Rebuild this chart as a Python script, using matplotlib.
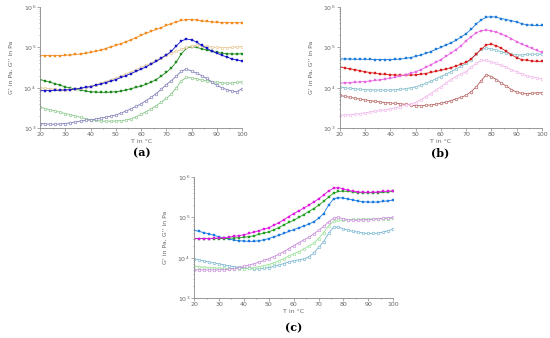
import math
import matplotlib
matplotlib.use("Agg")
import matplotlib.pyplot as plt
from matplotlib.ticker import LogLocator, MultipleLocator, FuncFormatter, NullFormatter

T = list(range(20, 101, 2))

# panel (a)
a_orange = [6.3e4, 6.3e4, 6.3e4, 6.3e4, 6.3e4, 6.4e4, 6.5e4, 6.7e4, 6.9e4, 7.2e4, 7.5e4, 8.0e4, 8.6e4, 9.4e4,
            1.03e5, 1.12e5, 1.24e5, 1.38e5, 1.55e5, 1.75e5, 2.0e5, 2.25e5, 2.5e5, 2.8e5, 3.1e5, 3.5e5, 3.9e5,
            4.3e5, 4.7e5, 4.9e5, 4.9e5, 4.8e5, 4.6e5, 4.4e5, 4.3e5, 4.2e5, 4.15e5, 4.1e5, 4.1e5, 4.1e5, 4.1e5]
a_blue = [8.5e3, 8.5e3, 8.5e3, 8.6e3, 8.7e3, 8.8e3, 9.0e3, 9.3e3, 9.7e3, 1.02e4, 1.07e4, 1.15e4, 1.24e4, 1.35e4,
          1.47e4, 1.6e4, 1.8e4, 2.0e4, 2.25e4, 2.55e4, 2.9e4, 3.3e4, 3.9e4, 4.5e4, 5.4e4, 6.5e4, 8.0e4, 1.1e5,
          1.45e5, 1.62e5, 1.55e5, 1.35e5, 1.12e5, 9.5e4, 8.2e4, 7.2e4, 6.4e4, 5.8e4, 5.2e4, 4.9e4, 4.6e4]
a_beige = [1.0e4, 9.7e3, 9.4e3, 9.2e3, 9.0e3, 9.0e3, 9.1e3, 9.3e3, 9.7e3, 1.03e4, 1.1e4, 1.19e4, 1.3e4, 1.43e4,
           1.58e4, 1.75e4, 1.95e4, 2.2e4, 2.45e4, 2.8e4, 3.2e4, 3.6e4, 4.1e4, 4.8e4, 5.6e4, 6.5e4, 7.3e4, 8.0e4,
           9.0e4, 1.0e5, 1.08e5, 1.12e5, 1.1e5, 1.06e5, 1.02e5, 1.0e5, 9.9e4, 9.9e4, 1.0e5, 1.03e5, 1.05e5]
a_green = [1.6e4, 1.48e4, 1.37e4, 1.26e4, 1.15e4, 1.05e4, 9.8e3, 9.2e3, 8.7e3, 8.3e3, 8.0e3, 7.8e3, 7.7e3, 7.7e3,
           7.8e3, 8.0e3, 8.3e3, 8.8e3, 9.5e3, 1.02e4, 1.1e4, 1.22e4, 1.38e4, 1.6e4, 1.95e4, 2.4e4, 3.1e4, 4.4e4,
           7.0e4, 9.5e4, 1.05e5, 1.0e5, 9.3e4, 8.6e4, 8.0e4, 7.5e4, 7.2e4, 7.0e4, 6.9e4, 6.9e4, 7.0e4]
a_purple = [1.3e3, 1.27e3, 1.25e3, 1.25e3, 1.27e3, 1.3e3, 1.35e3, 1.42e3, 1.5e3, 1.55e3, 1.6e3, 1.68e3, 1.76e3,
            1.86e3, 1.98e3, 2.1e3, 2.35e3, 2.65e3, 3.0e3, 3.45e3, 4.0e3, 4.8e3, 5.8e3, 7.2e3, 9.2e3, 1.2e4, 1.5e4,
            1.95e4, 2.6e4, 2.9e4, 2.6e4, 2.3e4, 2.0e4, 1.7e4, 1.4e4, 1.15e4, 1.0e4, 9.0e3, 8.3e3, 8.0e3, 9.5e3]
a_lgreen = [3.3e3, 3.05e3, 2.85e3, 2.65e3, 2.45e3, 2.3e3, 2.15e3, 2.0e3, 1.85e3, 1.72e3, 1.62e3, 1.55e3, 1.5e3,
            1.48e3, 1.48e3, 1.5e3, 1.53e3, 1.58e3, 1.7e3, 1.9e3, 2.2e3, 2.55e3, 3.0e3, 3.6e3, 4.4e3, 5.5e3, 7.0e3,
            1.0e4, 1.5e4, 1.8e4, 1.75e4, 1.65e4, 1.55e4, 1.48e4, 1.42e4, 1.37e4, 1.33e4, 1.3e4, 1.32e4, 1.36e4, 1.4e4]

# panel (b)
b_blue = [5.2e4, 5.2e4, 5.15e4, 5.1e4, 5.1e4, 5.1e4, 5.05e4, 5.0e4, 5.0e4, 5.0e4, 5.0e4, 5.05e4, 5.15e4, 5.35e4,
          5.6e4, 6.0e4, 6.5e4, 7.1e4, 7.9e4, 8.9e4, 1.0e5, 1.15e5, 1.3e5, 1.5e5, 1.8e5, 2.2e5, 2.8e5, 3.8e5,
          4.8e5, 5.6e5, 5.8e5, 5.6e5, 5.2e5, 4.9e5, 4.6e5, 4.3e5, 3.9e5, 3.65e5, 3.55e5, 3.5e5, 3.5e5]
b_magenta = [1.3e4, 1.32e4, 1.35e4, 1.37e4, 1.4e4, 1.43e4, 1.47e4, 1.52e4, 1.58e4, 1.65e4, 1.72e4, 1.82e4, 1.95e4,
             2.1e4, 2.3e4, 2.5e4, 2.8e4, 3.2e4, 3.7e4, 4.3e4, 5.0e4, 6.0e4, 7.2e4, 8.8e4, 1.1e5, 1.45e5, 1.85e5,
             2.3e5, 2.6e5, 2.7e5, 2.6e5, 2.4e5, 2.15e5, 1.9e5, 1.65e5, 1.4e5, 1.22e5, 1.07e5, 9.5e4, 8.4e4, 7.5e4]
b_red = [3.3e4, 3.1e4, 2.95e4, 2.8e4, 2.65e4, 2.5e4, 2.38e4, 2.28e4, 2.2e4, 2.15e4, 2.1e4, 2.07e4, 2.05e4, 2.05e4,
         2.07e4, 2.1e4, 2.17e4, 2.25e4, 2.4e4, 2.55e4, 2.7e4, 2.9e4, 3.15e4, 3.45e4, 3.85e4, 4.3e4, 5.2e4, 6.8e4,
         9.0e4, 1.15e5, 1.2e5, 1.1e5, 9.5e4, 8.0e4, 6.6e4, 5.6e4, 5.0e4, 4.8e4, 4.6e4, 4.5e4, 4.5e4]
b_cyan = [1.05e4, 1.0e4, 9.7e3, 9.4e3, 9.2e3, 9.0e3, 8.9e3, 8.8e3, 8.8e3, 8.8e3, 8.8e3, 8.9e3, 9.1e3, 9.5e3, 1.0e4,
          1.05e4, 1.15e4, 1.28e4, 1.45e4, 1.65e4, 1.9e4, 2.15e4, 2.5e4, 2.9e4, 3.4e4, 4.0e4, 5.0e4, 7.0e4, 9.0e4,
          9.5e4, 9.2e4, 8.5e4, 7.8e4, 7.2e4, 6.7e4, 6.5e4, 6.5e4, 6.7e4, 6.8e4, 6.8e4, 6.8e4]
b_pink = [2.1e3, 2.1e3, 2.15e3, 2.2e3, 2.3e3, 2.4e3, 2.5e3, 2.6e3, 2.75e3, 2.85e3, 3.0e3, 3.2e3, 3.4e3, 3.7e3, 4.0e3,
          4.3e3, 5.0e3, 6.0e3, 7.2e3, 8.8e3, 1.05e4, 1.3e4, 1.6e4, 1.9e4, 2.2e4, 2.5e4, 3.2e4, 4.0e4, 4.8e4, 4.8e4,
          4.4e4, 4.0e4, 3.6e4, 3.2e4, 2.8e4, 2.5e4, 2.2e4, 2.0e4, 1.85e4, 1.75e4, 1.65e4]
b_brown = [6.5e3, 6.1e3, 5.8e3, 5.5e3, 5.2e3, 5.0e3, 4.8e3, 4.6e3, 4.45e3, 4.3e3, 4.2e3, 4.1e3, 4.0e3, 3.9e3, 3.75e3,
           3.6e3, 3.6e3, 3.65e3, 3.75e3, 3.9e3, 4.1e3, 4.4e3, 4.8e3, 5.3e3, 5.8e3, 6.5e3, 8.0e3, 1.05e4, 1.5e4,
           2.1e4, 1.9e4, 1.6e4, 1.3e4, 1.1e4, 9.0e3, 7.8e3, 7.3e3, 7.2e3, 7.3e3, 7.5e3, 7.5e3]

# panel (c)
c_magenta = [3.0e4, 3.0e4, 3.0e4, 3.0e4, 3.05e4, 3.1e4, 3.15e4, 3.25e4, 3.4e4, 3.55e4, 3.7e4, 4.0e4, 4.3e4, 4.7e4,
             5.1e4, 5.6e4, 6.4e4, 7.4e4, 8.7e4, 1.05e5, 1.25e5, 1.45e5, 1.7e5, 2.0e5, 2.4e5, 2.9e5, 3.6e5, 4.5e5,
             5.3e5, 5.5e5, 5.1e5, 4.7e5, 4.45e5, 4.3e5, 4.2e5, 4.2e5, 4.2e5, 4.3e5, 4.4e5, 4.5e5, 4.6e5]
c_green = [3.0e4, 3.0e4, 3.0e4, 3.0e4, 3.0e4, 3.0e4, 3.0e4, 3.05e4, 3.1e4, 3.15e4, 3.2e4, 3.35e4, 3.5e4, 3.8e4,
           4.1e4, 4.4e4, 4.9e4, 5.6e4, 6.5e4, 7.5e4, 8.5e4, 1.0e5, 1.18e5, 1.4e5, 1.65e5, 2.0e5, 2.5e5, 3.2e5,
           4.0e5, 4.4e5, 4.5e5, 4.4e5, 4.25e5, 4.15e5, 4.1e5, 4.1e5, 4.1e5, 4.15e5, 4.2e5, 4.3e5, 4.4e5]
c_blue = [4.8e4, 4.5e4, 4.2e4, 3.9e4, 3.6e4, 3.3e4, 3.1e4, 2.9e4, 2.75e4, 2.65e4, 2.6e4, 2.55e4, 2.55e4, 2.65e4,
          2.8e4, 3.0e4, 3.3e4, 3.6e4, 4.0e4, 4.5e4, 5.0e4, 5.5e4, 6.1e4, 6.8e4, 7.8e4, 9.5e4, 1.25e5, 2.0e5,
          2.9e5, 3.1e5, 3.0e5, 2.85e5, 2.7e5, 2.55e5, 2.45e5, 2.4e5, 2.4e5, 2.4e5, 2.5e5, 2.6e5, 2.7e5]
c_lilac = [5.1e3, 5.0e3, 5.0e3, 5.0e3, 5.0e3, 5.0e3, 5.1e3, 5.2e3, 5.4e3, 5.7e3, 6.1e3, 6.6e3, 7.1e3, 7.8e3, 8.6e3,
           9.5e3, 1.07e4, 1.22e4, 1.42e4, 1.68e4, 2.0e4, 2.35e4, 2.75e4, 3.2e4, 3.9e4, 4.8e4, 6.0e4, 7.8e4, 9.5e4,
           1.0e5, 9.3e4, 8.8e4, 8.5e4, 8.5e4, 8.7e4, 8.8e4, 9.0e4, 9.3e4, 9.6e4, 9.8e4, 1.0e5]
c_lgreen = [6.2e3, 6.0e3, 5.8e3, 5.7e3, 5.6e3, 5.5e3, 5.45e3, 5.4e3, 5.4e3, 5.4e3, 5.4e3, 5.5e3, 5.7e3, 6.0e3,
            6.4e3, 6.8e3, 7.5e3, 8.4e3, 9.5e3, 1.1e4, 1.25e4, 1.42e4, 1.65e4, 1.95e4, 2.3e4, 3.0e4, 4.2e4, 6.2e4,
            8.0e4, 8.5e4, 8.5e4, 8.7e4, 8.9e4, 9.0e4, 9.1e4, 9.2e4, 9.2e4, 9.3e4, 9.3e4, 9.4e4, 9.5e4]
c_cyan = [9.5e3, 8.9e3, 8.3e3, 7.8e3, 7.4e3, 7.0e3, 6.6e3, 6.3e3, 6.0e3, 5.8e3, 5.6e3, 5.45e3, 5.3e3, 5.3e3, 5.5e3,
          5.7e3, 6.1e3, 6.6e3, 7.2e3, 7.9e3, 8.5e3, 8.9e3, 9.3e3, 1.05e4, 1.3e4, 1.8e4, 2.5e4, 4.0e4, 5.8e4, 5.8e4,
          5.2e4, 4.8e4, 4.5e4, 4.3e4, 4.1e4, 4.0e4, 4.0e4, 4.1e4, 4.3e4, 4.7e4, 5.2e4]

grey = '#666666'

def sci(v, pos):
    e = int(round(math.log10(v)))
    return r'$10^{%d}$' % e

def setup(ax):
    ax.set_yscale('log')
    ax.set_xlim(20, 100)
    ax.set_ylim(1e3, 1e6)
    ax.spines['top'].set_visible(False)
    ax.spines['right'].set_visible(False)
    for s in ('left', 'bottom'):
        ax.spines[s].set_color('#888888')
        ax.spines[s].set_linewidth(0.6)
    ax.xaxis.set_major_locator(MultipleLocator(10))
    ax.xaxis.set_minor_locator(MultipleLocator(5))
    ax.yaxis.set_major_locator(LogLocator(base=10, numticks=10))
    ax.yaxis.set_minor_locator(LogLocator(base=10, subs=range(2, 10), numticks=10))
    ax.yaxis.set_major_formatter(FuncFormatter(sci))
    ax.yaxis.set_minor_formatter(NullFormatter())
    ax.tick_params(which='both', direction='out', colors='#888888', labelcolor=grey, labelsize=4.5,
                   width=0.5, pad=1)
    ax.tick_params(which='major', length=2)
    ax.tick_params(which='minor', length=1)
    ax.set_xlabel('T in °C', fontsize=4.5, color=grey, labelpad=1.5)
    ax.set_ylabel("G' in Pa, G'' in Pa", fontsize=4.5, color=grey, labelpad=7)

def filled(ax, y, c):
    ax.plot(T, y, color=c, lw=0.6, marker='s', ms=1.7, mfc=c, mec=c, mew=0.3)

def hollow(ax, y, c):
    ax.plot(T, y, color=c, lw=0.6, marker='o', ms=1.9, mfc='white', mec=c, mew=0.45)

fig = plt.figure(figsize=(5.5, 3.38), dpi=100)

ax1 = fig.add_axes([0.073, 0.621, 0.367, 0.358])
setup(ax1)
hollow(ax1, a_lgreen, '#86c486')
hollow(ax1, a_purple, '#7a78b4')
filled(ax1, a_green, '#1e8a1e')
hollow(ax1, a_beige, '#e6c48e')
filled(ax1, a_blue, '#1414c8')
filled(ax1, a_orange, '#f28a1e')

ax2 = fig.add_axes([0.618, 0.621, 0.367, 0.358])
setup(ax2)
hollow(ax2, b_brown, '#b25a5a')
hollow(ax2, b_pink, '#f0b4ea')
hollow(ax2, b_cyan, '#78b8c8')
filled(ax2, b_red, '#d81c1c')
filled(ax2, b_magenta, '#e866e2')
filled(ax2, b_blue, '#1c7ad8')

ax3 = fig.add_axes([0.353, 0.118, 0.362, 0.358])
setup(ax3)
hollow(ax3, c_cyan, '#74b2d0')
hollow(ax3, c_lgreen, '#94e094')
hollow(ax3, c_lilac, '#c484d8')
filled(ax3, c_blue, '#1a7ae0')
filled(ax3, c_green, '#22a022')
filled(ax3, c_magenta, '#e014e0')

fig.text(0.258, 0.547, '(a)', ha='center', va='center', fontsize=8, fontweight='bold', family='DejaVu Serif')
fig.text(0.80, 0.547, '(b)', ha='center', va='center', fontsize=8, fontweight='bold', family='DejaVu Serif')
fig.text(0.533, 0.03, '(c)', ha='center', va='center', fontsize=8, fontweight='bold', family='DejaVu Serif')

fig.savefig('out.png', dpi=100)
